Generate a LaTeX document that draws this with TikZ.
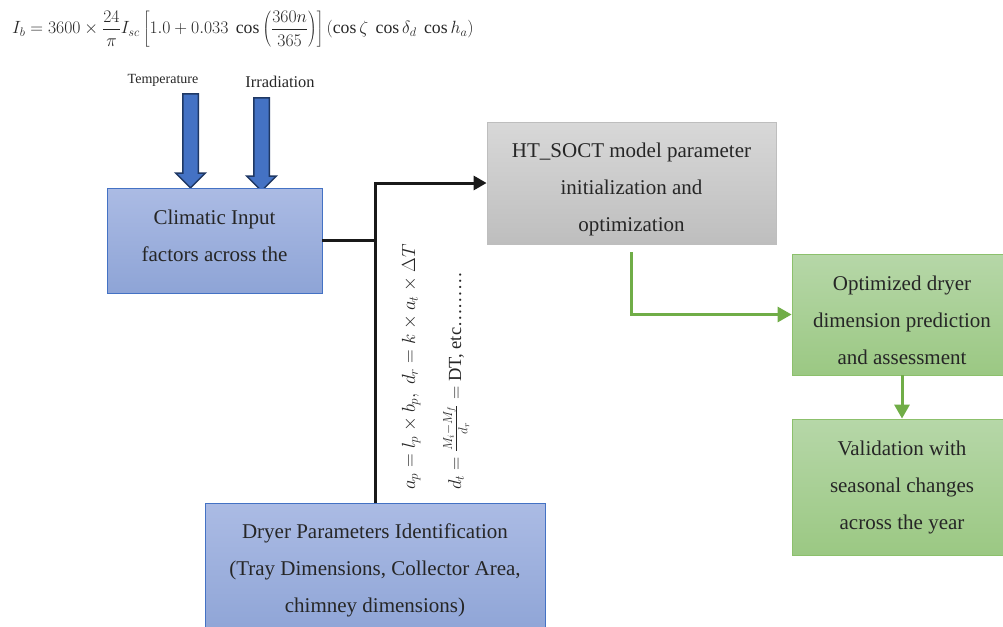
\RequirePackage{fix-cm}
\documentclass[tikz,border=0pt]{standalone}
\usepackage{fontspec}
\setmainfont{Liberation Serif}
\usepackage{tikz}
\usetikzlibrary{arrows.meta,positioning,calc,shapes.arrows}
\definecolor{bltop}{HTML}{ABBBE4}
\definecolor{blbot}{HTML}{8EA4D6}
\definecolor{bledge}{HTML}{4472C4}
\definecolor{navy}{HTML}{1F3864}
\definecolor{grtop}{HTML}{D8D8D8}
\definecolor{grbot}{HTML}{BEBEBE}
\definecolor{gntop}{HTML}{B6D7A8}
\definecolor{gnbot}{HTML}{9BC883}
\definecolor{gnedge}{HTML}{8CC06C}
\definecolor{gnline}{HTML}{70AD47}
\tikzset{
  box/.style={draw, align=center, inner sep=0pt, text=black!85, font=\fontsize{21}{37}\selectfont},
  bluebox/.style={box, draw=bledge, line width=0.8pt, top color=bltop, bottom color=blbot},
  graybox/.style={box, draw=grbot, line width=0.8pt, top color=grtop, bottom color=grbot},
  greenbox/.style={box, draw=gnedge, line width=0.8pt, top color=gntop, bottom color=gnbot},
  blockarr/.style={single arrow, draw=navy, fill=bledge, line width=1.5pt, rotate=-90,
    inner xsep=0pt, inner ysep=7pt, single arrow head extend=7pt, minimum width=28pt},
  link/.style={line width=3pt, black!90},
  glink/.style={line width=3pt, gnline, -{Triangle[length=14pt,width=15pt]}},
  lbl/.style={inner sep=0pt, text=black!85},
  eqn/.style={inner sep=0pt, text=black!85},
}

\begin{document}
\begin{tikzpicture}[x=1pt,y=-1pt]
  \clip (0,0) rectangle (1003,626);
  \node[eqn, anchor=base west, font=\fontsize{17.7}{20}\selectfont] (ib) at (12,34)
    {$\displaystyle I_b = 3600\times\frac{24}{\pi}I_{sc}\left[1.0+0.033\ \cos\left(\frac{360n}{365}\right)\right](\cos\zeta\ \cos\delta_d\ \cos h_a)$};
  \node[lbl, anchor=base, font=\fontsize{14}{16}\selectfont] (temp) at (163,83) {Temperature};
  \node[lbl, anchor=base, font=\fontsize{16.4}{18}\selectfont] (irr) at (280,87) {Irradiation};
  \node[blockarr, minimum height=94pt] (tarr) at (190.5,137) {};
  \node[blockarr, minimum height=93pt] (iarr) at (261.5,140.5) {};
  \node[bluebox, minimum width=215pt, minimum height=105pt, text depth=10pt] (clim) at (214.5,240.5)
    {Climatic Input\\factors across the};
  \node[graybox, minimum width=289pt, minimum height=122pt, text height=102pt] (ht) at (631.5,183)
    {HT\_SOCT model parameter\\initialization and\\optimization};
  \node[greenbox, minimum width=220pt, minimum height=121pt, text height=101pt] (opt) at (902,314.5)
    {Optimized dryer\\dimension prediction\\and assessment};
  \node[greenbox, minimum width=220pt, minimum height=136pt] (val) at (902,487)
    {Validation with\\seasonal changes\\across the year};
  \node[bluebox, minimum width=340pt, minimum height=134pt] (dry) at (375,570)
    {Dryer Parameters Identification\\(Tray Dimensions, Collector Area,\\chimney dimensions)};
  % rotated relations beside the trunk line
  \node[eqn, rotate=90, anchor=base west, font=\fontsize{19}{22}\selectfont] (eqa) at (415,490)
    {$a_p = l_p\times b_p,\ d_r = k\times a_t\times\Delta T$};
  \node[eqn, rotate=90, anchor=base west, font=\fontsize{18.5}{22}\selectfont] (eqb) at (461,490)
    {$d_t = \frac{M_i-M_f}{d_r} = $ DT, etc………};
  \draw[link] (clim.east) -- (clim.east -| dry.north);
  \draw[link, -{Triangle[length=13pt,width=14pt]}] (dry.north) |- (ht.west);
  \draw[glink] ([yshift=-8pt]ht.south) |- (opt.west);
  \draw[glink] (opt.south) -- (val.north);
\end{tikzpicture}
\end{document}
